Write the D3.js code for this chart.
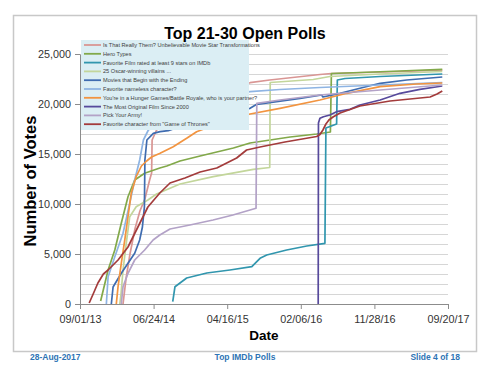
<!DOCTYPE html>
<html lang="en">
<head>
<meta charset="UTF-8">
<title>Top 21-30 Open Polls</title>
<script src="https://d3js.org/d3.v7.min.js"></script>
<style>
  body { margin: 0; background: #fff; }
  text { font-family: "Liberation Sans", Arial, sans-serif; }
</style>
</head>
<body>
<script>
// ---- data ----
var seriesNames = [
  "Is That Really Them? Unbelievable Movie Star Transformations",
  "Hero Types",
  "Favorite Film rated at least 9 stars on IMDb",
  "25 Oscar-winning villains ...",
  "Movies that Begin with the Ending",
  "Favorite nameless character?",
  "You're in a Hunger Games/Battle Royale, who is your partner?",
  "The Most Original Film Since 2000",
  "Pick Your Army!",
  "Favorite character from \"Game of Thrones\""
];
var seriesColors = ["#D99694", "#82A94A", "#3196AE", "#C3D69B", "#3F6CB0",
                    "#8EB4E3", "#F29440", "#574A9C", "#B3A2C7", "#A33B3B"];

var reallyThem = [["2014-02-21",0],["2014-03-05",2500],["2014-03-21",5000],["2014-04-10",7500],
  ["2014-04-30",9300],["2014-05-20",10500],["2014-06-08",12400],["2014-06-16",13100],["2014-06-18",16400],
  ["2014-07-06",17400],["2014-12-28",20500],["2015-07-17",22130],["2015-10-04",22400],["2016-04-23",22950],
  ["2016-06-07",23050],["2017-03-11",23250],["2017-08-28",23380]];
var heroTypes = [["2013-11-23",300],["2013-12-23",3400],["2014-01-19",5400],["2014-02-14",8070],
  ["2014-03-13",10730],["2014-04-09",12400],["2014-05-19",13070],["2014-07-19",13600],["2014-08-16",13800],
  ["2014-10-08",14300],["2014-12-28",14800],["2015-05-11",15600],["2015-07-17",16100],["2015-12-25",16700],
  ["2016-04-10",17000],["2016-06-04",17200],["2016-06-08",23050],["2016-10-01",23150],["2017-03-11",23300],
  ["2017-08-28",23470]];
var nineStars = [["2014-09-09",230],["2014-09-18",1730],["2014-11-04",2600],["2015-01-24",3100],
  ["2015-04-27",3400],["2015-07-24",3730],["2015-08-26",4570],["2015-09-22",4900],["2015-12-11",5400],
  ["2016-03-01",5800],["2016-05-13",6070],["2016-05-17",17600],["2016-06-29",18000],["2016-07-02",22400],
  ["2016-08-02",22550],["2016-12-21",22750],["2017-08-28",23000]];
var oscarVillains = [["2014-02-08",0],["2014-02-13",1000],["2014-02-21",3400],["2014-03-06",6070],
  ["2014-03-20",8730],["2014-04-15",9730],["2014-06-01",10400],["2014-07-06",11000],["2014-10-08",12000],
  ["2015-02-19",12730],["2015-07-30",13470],["2015-10-04",13650],["2015-10-06",22150],["2016-03-27",22450],
  ["2016-06-02",22750],["2016-12-21",23000],["2017-08-28",23250]];
var beginWithEnding = [["2014-01-05",0],["2014-01-12",1700],["2014-02-14",3070],["2014-03-13",4070],
  ["2014-04-09",5070],["2014-04-29",6400],["2014-05-10",7700],["2014-05-18",9700],["2014-05-20",14400],
  ["2014-05-28",16400],["2014-06-23",17070],["2014-07-20",17230],["2014-08-22",17330],["2015-02-06",18800],
  ["2015-07-17",19570],["2015-08-13",19970],["2015-11-01",20230],["2016-02-03",20570],["2016-04-30",20900],
  ["2016-05-05",20700],["2016-07-13",21070],["2016-10-01",21570],["2016-12-21",22070],["2017-04-07",22400],
  ["2017-08-28",22700]];
var namelessChar = [["2013-12-16",0],["2013-12-23",2730],["2014-01-19",4730],["2014-02-21",7070],
  ["2014-03-20",10070],["2014-04-09",12400],["2014-04-29",14400],["2014-05-14",16400],["2014-06-03",17400],
  ["2014-11-17",20300],["2015-07-17",21230],["2015-11-14",21450],["2016-04-23",21650],["2016-12-21",21900],
  ["2017-08-28",22150]];
var hungerGames = [["2014-01-25",0],["2014-02-01",1730],["2014-02-14",4070],["2014-02-28",6400],
  ["2014-03-13",8730],["2014-03-26",11070],["2014-04-15",12730],["2014-05-06",13800],["2014-05-27",14300],
  ["2014-06-16",14700],["2014-07-20",15070],["2014-09-11",15730],["2014-11-04",16570],["2014-12-14",17230],
  ["2015-04-07",18300],["2015-07-17",19000],["2015-11-14",19570],["2016-04-23",20400],["2016-08-09",21070],
  ["2016-12-21",21730],["2017-05-17",22000],["2017-08-28",22100]];
var mostOriginal = [["2016-04-16",0],["2016-04-17",18100],["2016-04-23",18570],["2016-05-07",18730],
  ["2016-06-02",18900],["2016-06-29",19230],["2016-08-22",19470],["2016-10-01",19900],["2016-12-21",20400],
  ["2017-03-11",21070],["2017-05-30",21470],["2017-08-28",21800]];
var pickArmy = [["2014-02-14",0],["2014-02-21",1730],["2014-03-13",3070],["2014-04-09",4400],
  ["2014-05-19",5400],["2014-06-22",6400],["2014-07-19",6900],["2014-08-29",7500],["2014-11-17",7900],
  ["2015-02-18",8400],["2015-05-09",8900],["2015-08-10",9570],["2015-08-13",20070],["2015-11-14",20400],
  ["2016-04-23",20900],["2016-12-21",21400],["2017-08-28",21900]];
var gameOfThrones = [["2013-10-08",100],["2013-10-24",1000],["2013-11-12",2100],["2013-12-04",3000],
  ["2013-12-23",3400],["2014-02-01",4400],["2014-03-13",5700],["2014-04-22",7700],["2014-06-01",9700],
  ["2014-07-19",11100],["2014-08-29",12100],["2014-10-28",12600],["2014-12-28",13200],["2015-03-05",13600],
  ["2015-05-24",14600],["2015-07-03",15400],["2015-08-26",15700],["2015-12-04",16200],["2016-04-10",16750],
  ["2016-04-23",16950],["2016-05-05",17400],["2016-05-17",18000],["2016-05-29",18400],["2016-06-16",18730],
  ["2016-07-13",19100],["2016-10-01",19800],["2017-01-30",20300],["2017-07-10",20700],["2017-08-07",21000],
  ["2017-08-28",21300]];

var allSeries = [reallyThem, heroTypes, nineStars, oscarVillains, beginWithEnding,
                 namelessChar, hungerGames, mostOriginal, pickArmy, gameOfThrones];

var xTickDates = ["2013-09-01", "2014-06-24", "2015-04-16", "2016-02-06", "2016-11-28", "2017-09-20"];
var yTicks = [0, 5000, 10000, 15000, 20000, 25000];

// ---- canvas ----
var width = 490, height = 368;
var svg = d3.select("body").append("svg")
    .attr("width", width)
    .attr("height", height);

// slide frame
svg.append("rect")
    .attr("x", 13.5).attr("y", 15.5)
    .attr("width", 463).attr("height", 336)
    .attr("fill", "none").attr("stroke", "#C8C8C8").attr("stroke-width", 1.5);

var parse = d3.timeParse("%Y-%m-%d");
var plotLeft = 80, plotRight = 448, plotTop = 54, plotBottom = 304;

var x = d3.scaleTime()
    .domain([parse(xTickDates[0]), parse(xTickDates[xTickDates.length - 1])])
    .range([plotLeft, plotRight]);
var y = d3.scaleLinear().domain([0, 25000]).range([plotBottom, plotTop]);

// gridlines every 1000 votes
svg.append("g")
    .attr("transform", "translate(" + plotLeft + ",0)")
    .call(d3.axisLeft(y).tickValues(d3.range(1000, 25001, 1000)).tickSize(-(plotRight - plotLeft)).tickFormat(""))
    .call(function(g) {
        g.select(".domain").remove();
        g.selectAll("line").attr("stroke", "#D6D6D6").attr("stroke-width", 1);
    });

// axes
var yAxis = svg.append("g")
    .attr("transform", "translate(" + plotLeft + ",0)")
    .call(d3.axisLeft(y).tickValues(yTicks).tickFormat(d3.format(",")).tickSize(5).tickSizeOuter(0).tickPadding(4));
var xAxis = svg.append("g")
    .attr("transform", "translate(0," + plotBottom + ")")
    .call(d3.axisBottom(x).tickValues(xTickDates.map(parse)).tickFormat(d3.timeFormat("%m/%d/%y"))
          .tickSize(5).tickSizeOuter(0).tickPadding(6));
[yAxis, xAxis].forEach(function(a) {
    a.selectAll(".domain, line").attr("stroke", "#8C8C8C");
    a.selectAll("text").attr("fill", "#333").style("font-size", "10.8px")
        .style("font-family", "'Liberation Sans', Arial, sans-serif");
});

// series
var line = d3.line()
    .x(function(d) { return x(parse(d[0])); })
    .y(function(d) { return y(d[1]); });

svg.append("g").selectAll("path")
    .data(allSeries)
    .enter()
    .append("path")
    .attr("d", line)
    .attr("fill", "none")
    .attr("stroke", function(d, i) { return seriesColors[i]; })
    .attr("stroke-width", 1.7)
    .attr("stroke-linejoin", "round");

// legend (drawn over the lines)
var legend = svg.append("g");
legend.append("rect")
    .attr("x", 81).attr("y", 40).attr("width", 168).attr("height", 90)
    .attr("fill", "#DBEEF4");
var item = legend.selectAll("g.item")
    .data(seriesNames)
    .enter().append("g")
    .attr("transform", function(d, i) { return "translate(0," + (45 + i * 8.8) + ")"; });
item.append("line")
    .attr("x1", 84).attr("x2", 101)
    .attr("stroke", function(d, i) { return seriesColors[i]; })
    .attr("stroke-width", 1.8);
item.append("text")
    .attr("x", 103).attr("dy", "0.35em")
    .style("font-size", "5.6px")
    .style("font-family", "'Liberation Sans Narrow', 'Liberation Sans', Arial, sans-serif")
    .attr("fill", "#404040")
    .text(function(d) { return d; });

// titles
svg.append("text")
    .attr("x", 245).attr("y", 39)
    .attr("text-anchor", "middle")
    .style("font-size", "16px").style("font-weight", "bold")
    .text("Top 21-30 Open Polls");
svg.append("text")
    .attr("transform", "translate(36,181) rotate(-90)")
    .attr("text-anchor", "middle")
    .style("font-size", "16.5px").style("font-weight", "bold")
    .text("Number of Votes");
svg.append("text")
    .attr("x", 264).attr("y", 340)
    .attr("text-anchor", "middle")
    .style("font-size", "13.5px").style("font-weight", "bold")
    .text("Date");

// footer
var footer = [["28-Aug-2017", 30, "start"], ["Top IMDb Polls", 245, "middle"], ["Slide 4 of 18", 460, "end"]];
svg.selectAll("text.footer")
    .data(footer)
    .enter().append("text")
    .attr("class", "footer")
    .attr("x", function(d) { return d[1]; })
    .attr("y", 360)
    .attr("text-anchor", function(d) { return d[2]; })
    .style("font-size", "8.5px").style("font-weight", "bold")
    .attr("fill", "#2E74B5")
    .text(function(d) { return d[0]; });
</script>
</body>
</html>
